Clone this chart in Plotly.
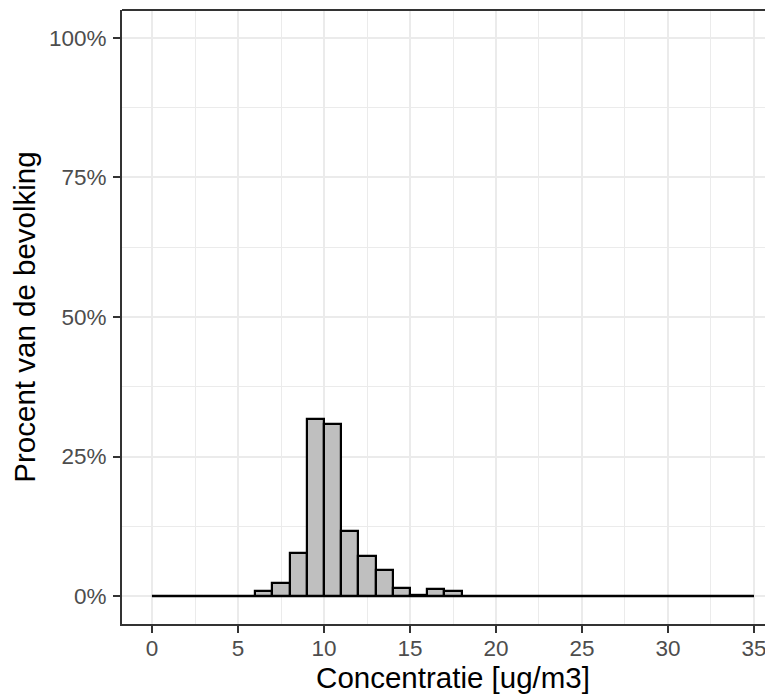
import plotly.graph_objects as go

# Histogram data: bin edges 0..35 (width 1), percent of population per bin
bin_edges = list(range(0, 36))
percent = [
    0, 0, 0, 0, 0, 0,            # 0-6
    0.9, 2.4, 7.7, 31.8, 30.9,   # 6-11
    11.7, 7.2, 4.7, 1.5, 0.2,    # 11-16
    1.2, 0.9, 0.1, 0.05, 0.05,   # 16-21
    0.05, 0.05, 0.05, 0.05, 0,   # 21-26
    0, 0, 0, 0, 0, 0, 0, 0, 0,   # 26-35
]
x_ticks = [0, 5, 10, 15, 20, 25, 30, 35]
y_ticks = [0, 25, 50, 75, 100]
y_tick_labels = ["0%", "25%", "50%", "75%", "100%"]

centers = [(a + b) / 2 for a, b in zip(bin_edges[:-1], bin_edges[1:])]
widths = [b - a for a, b in zip(bin_edges[:-1], bin_edges[1:])]

fig = go.Figure()
fig.add_trace(go.Bar(
    x=centers, y=percent, width=widths,
    marker=dict(color="#BFBFBF", line=dict(color="black", width=2.2)),
    showlegend=False, hoverinfo="skip",
))
# zero-height bins still show their outline as a baseline
fig.add_trace(go.Scatter(
    x=bin_edges, y=[0] * len(bin_edges), mode="lines",
    line=dict(color="black", width=2.2), showlegend=False, hoverinfo="skip",
))

tick_font = dict(family="Liberation Sans, Arial, sans-serif", size=22.5, color="#4D4D4D")
title_font = dict(family="Liberation Sans, Arial, sans-serif", size=29.5, color="black")

fig.update_layout(
    width=776, height=695,
    margin=dict(l=114, r=0, t=2, b=79),
    plot_bgcolor="white", paper_bgcolor="white",
    bargap=0,
    xaxis=dict(
        range=[-1.75, 36.75],
        tickvals=x_ticks, ticktext=[str(v) for v in x_ticks],
        ticks="outside", ticklen=7, tickwidth=2, tickcolor="#333333",
        showline=True, linecolor="#333333", linewidth=2,
        showgrid=True, gridcolor="#EBEBEB", gridwidth=2,
        minor=dict(dtick=2.5, tick0=0, showgrid=True, gridcolor="#EBEBEB", gridwidth=1, ticks=""),
        zeroline=False,
        tickfont=tick_font,
        ticklabelstandoff=-4,
        title=dict(text="Concentratie [ug/m3]", font=title_font, standoff=4),
    ),
    yaxis=dict(
        range=[-5, 105],
        tickvals=y_ticks, ticktext=y_tick_labels,
        ticks="outside", ticklen=7, tickwidth=2, tickcolor="#333333",
        showline=True, linecolor="#333333", linewidth=2,
        showgrid=True, gridcolor="#EBEBEB", gridwidth=2,
        minor=dict(dtick=12.5, tick0=0, showgrid=True, gridcolor="#EBEBEB", gridwidth=1, ticks=""),
        zeroline=False,
        tickfont=tick_font,
        ticklabelstandoff=2,
        title=dict(text="Procent van de bevolking", font=title_font, standoff=12),
    ),
    shapes=[dict(type="line", xref="paper", yref="paper", x0=0, x1=1, y0=1, y1=1,
                 line=dict(color="#333333", width=2))],
)

fig.write_html("out.html")
